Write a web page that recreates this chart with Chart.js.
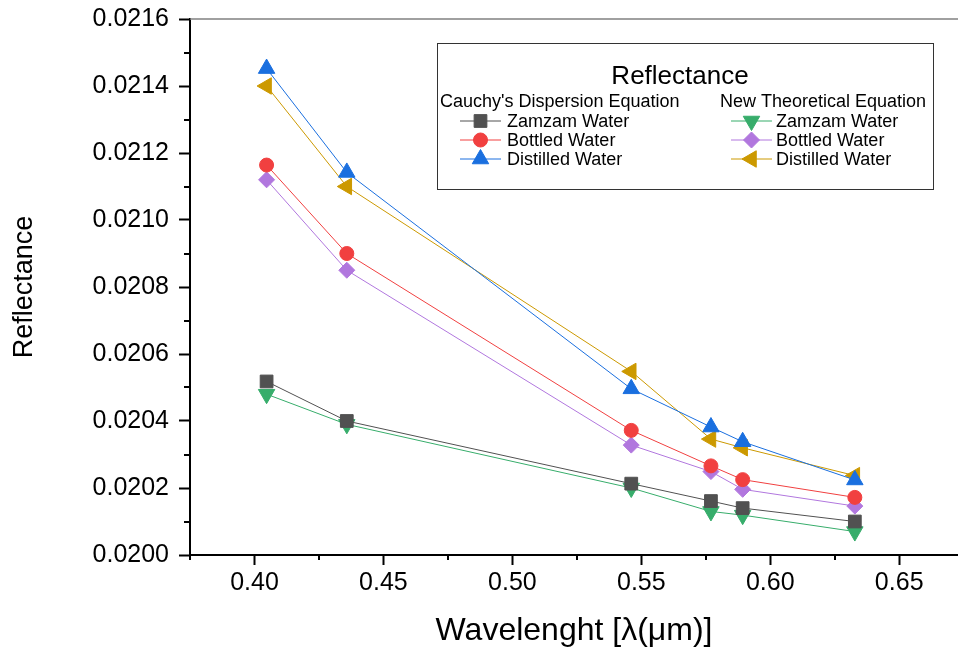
<!DOCTYPE html>
<html>
<head>
<meta charset="utf-8">
<script src="https://cdn.jsdelivr.net/npm/chart.js@4.4.0/dist/chart.umd.min.js"></script>
<style>
    html, body { margin: 0; padding: 0; background: #fff; }
    #wrap { width: 958px; height: 653px; }
</style>
</head>
<body>
<div id="wrap"><canvas id="reflChart" width="958" height="653"></canvas></div>
<script>
// Wavelengths (micrometres) and reflectance values
const wavelengths = [0.4047, 0.4358, 0.5461, 0.5770, 0.5893, 0.6328];

const cauchyZamzam    = [0.020518, 0.020400, 0.020213, 0.020161, 0.020140, 0.020100];
const cauchyBottled   = [0.021164, 0.020900, 0.020372, 0.020266, 0.020225, 0.020172];
const cauchyDistilled = [0.021452, 0.021142, 0.020496, 0.020382, 0.020338, 0.020224];

const newZamzam    = [0.020480, 0.020390, 0.020200, 0.020130, 0.020119, 0.020070];
const newBottled   = [0.021120, 0.020850, 0.020328, 0.020249, 0.020196, 0.020146];
const newDistilled = [0.021400, 0.021100, 0.020548, 0.020346, 0.020320, 0.020237];

const xTicks = [0.40, 0.45, 0.50, 0.55, 0.60, 0.65];
const xMinorTicks = [0.375, 0.425, 0.475, 0.525, 0.575, 0.625];
const yTicks = [0.0200, 0.0202, 0.0204, 0.0206, 0.0208, 0.0210, 0.0212, 0.0214, 0.0216];
const yMinorTicks = [0.0201, 0.0203, 0.0205, 0.0207, 0.0209, 0.0211, 0.0213, 0.0215];

const FONT = "'Liberation Sans', Arial, sans-serif";

function toPoints(values) {
    return values.map((v, i) => ({ x: wavelengths[i], y: v }));
}

function series(label, group, values, color, style, radius, rotation) {
    return {
        label: label,
        group: group,
        data: toPoints(values),
        showLine: true,
        borderColor: color,
        borderWidth: 1,
        backgroundColor: color,
        pointBackgroundColor: color,
        pointBorderColor: color,
        pointBorderWidth: 1,
        pointStyle: style,
        pointRadius: radius,
        pointRotation: rotation || 0
    };
}

const datasets = [
    series('Zamzam Water', 'cauchy', cauchyZamzam, '#515151', 'rect', 9),
    series('Bottled Water', 'cauchy', cauchyBottled, '#f14040', 'circle', 7),
    series('Distilled Water', 'cauchy', cauchyDistilled, '#1a6fdf', 'triangle', 9.5),
    series('Zamzam Water', 'new', newZamzam, '#37ad6b', 'triangle', 9.5, 180),
    series('Bottled Water', 'new', newBottled, '#b177de', 'rectRot', 8),
    series('Distilled Water', 'new', newDistilled, '#cc9900', 'triangle', 9.5, 270)
];

// minor ticks + top frame line
const framePlugin = {
    id: 'frame',
    afterDraw(chart) {
        const ctx = chart.ctx;
        const area = chart.chartArea;
        const xs = chart.scales.x;
        const ys = chart.scales.y;
        ctx.save();
        ctx.strokeStyle = '#808080';
        ctx.lineWidth = 1.5;
        ctx.beginPath();
        ctx.moveTo(area.left, area.top);
        ctx.lineTo(chart.width, area.top);
        ctx.stroke();

        ctx.strokeStyle = '#000';
        ctx.lineWidth = 2;
        ctx.beginPath();
        xMinorTicks.forEach(v => {
            const px = Math.round(xs.getPixelForValue(v));
            ctx.moveTo(px, area.bottom);
            ctx.lineTo(px, area.bottom + 5);
        });
        yMinorTicks.forEach(v => {
            const py = Math.round(ys.getPixelForValue(v));
            ctx.moveTo(area.left, py);
            ctx.lineTo(area.left - 6, py);
        });
        ctx.stroke();
        ctx.restore();
    }
};

// grouped two-column legend like the original figure
const groupLegendPlugin = {
    id: 'groupLegend',
    afterDraw(chart) {
        const ctx = chart.ctx;
        const area = chart.chartArea;
        const left = area.left + 247;
        const top = area.top + 24;
        const w = 496, h = 146;
        ctx.save();
        ctx.fillStyle = '#fff';
        ctx.fillRect(left, top, w, h);
        ctx.strokeStyle = '#333';
        ctx.lineWidth = 1;
        ctx.strokeRect(left + 0.5, top + 0.5, w, h);

        ctx.fillStyle = '#000';
        ctx.textBaseline = 'middle';
        ctx.textAlign = 'center';
        ctx.font = '26px ' + FONT;
        ctx.fillText('Reflectance', left + 243, top + 34);

        ctx.textAlign = 'left';
        ctx.font = '18px ' + FONT;
        ctx.fillText("Cauchy's Dispersion Equation", left + 3, top + 59);
        ctx.fillText('New Theoretical Equation', left + 283, top + 59);

        const cols = { cauchy: { line: left + 23, text: left + 70 }, 'new': { line: left + 294, text: left + 339 } };
        const rowCount = { cauchy: 0, 'new': 0 };
        chart.data.datasets.forEach(ds => {
            const c = cols[ds.group];
            const y = top + 78 + rowCount[ds.group] * 19;
            rowCount[ds.group]++;
            ctx.strokeStyle = ds.borderColor;
            ctx.lineWidth = 1;
            ctx.beginPath();
            ctx.moveTo(c.line, y);
            ctx.lineTo(c.line + 41, y);
            ctx.stroke();
            ctx.fillStyle = ds.pointBackgroundColor;
            ctx.strokeStyle = ds.pointBorderColor;
            Chart.helpers.drawPoint(ctx, {
                pointStyle: ds.pointStyle,
                rotation: ds.pointRotation,
                radius: ds.pointRadius,
                borderWidth: 1
            }, c.line + 20.5, y);
            ctx.fillStyle = '#000';
            ctx.fillText(ds.label, c.text, y + 1);
        });
        ctx.restore();
    }
};

new Chart(document.getElementById('reflChart'), {
    type: 'scatter',
    data: { datasets: datasets },
    plugins: [framePlugin, groupLegendPlugin],
    options: {
        responsive: false,
        animation: false,
        events: [],
        layout: { autoPadding: false, padding: { top: 19, right: 0, left: 0, bottom: 0 } },
        plugins: {
            legend: { display: false },
            tooltip: { enabled: false }
        },
        scales: {
            x: {
                type: 'linear',
                min: 0.375,
                max: 0.6728,
                afterBuildTicks: scale => { scale.ticks = xTicks.map(v => ({ value: v })); },
                afterFit: scale => {
                    scale.height = 98;
                    scale.paddingLeft = 0;
                    scale.paddingRight = 0;
                },
                border: { display: true, color: '#000', width: 2 },
                grid: { drawOnChartArea: false, drawTicks: true, tickLength: 10, tickColor: '#000', tickWidth: 2 },
                ticks: {
                    color: '#000',
                    padding: 3,
                    font: { family: FONT, size: 25 },
                    callback: v => v.toFixed(2)
                },
                title: {
                    display: true,
                    text: 'Wavelenght [\u03bb(\u03bcm)]',
                    color: '#000',
                    font: { family: FONT, size: 32 },
                    padding: { top: 0, bottom: 3 }
                }
            },
            y: {
                type: 'linear',
                min: 0.0200,
                max: 0.0216,
                afterBuildTicks: scale => { scale.ticks = yTicks.map(v => ({ value: v })); },
                afterFit: scale => {
                    scale.width = 190;
                    scale.paddingTop = 0;
                    scale.paddingBottom = 0;
                },
                border: { display: true, color: '#000', width: 2 },
                grid: { drawOnChartArea: false, drawTicks: true, tickLength: 11, tickColor: '#000', tickWidth: 2 },
                ticks: {
                    color: '#000',
                    padding: 10,
                    font: { family: FONT, size: 25 },
                    callback: v => v.toFixed(4)
                },
                title: {
                    display: true,
                    text: 'Reflectance',
                    color: '#000',
                    font: { family: FONT, size: 27 },
                    padding: { top: 8, bottom: 0 }
                }
            }
        }
    }
});
</script>
</body>
</html>
